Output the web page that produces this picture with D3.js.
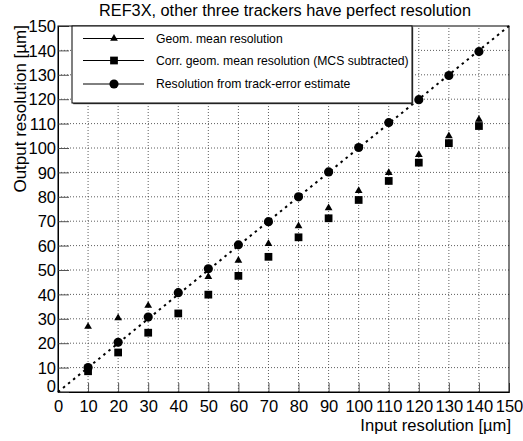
<!DOCTYPE html>
<html><head><meta charset="utf-8">
<script src="https://cdn.jsdelivr.net/npm/d3@7"></script>
<style>body{margin:0;background:#fff;} svg{display:block;font-family:"Liberation Sans",Arial,sans-serif;}</style>
</head><body>
<script>
const inputRes = [10,20,30,40,50,60,70,80,90,100,110,120,130,140];
const geomMean = [26.8,30.3,35.4,41.0,47.2,53.9,60.8,68.0,75.4,82.5,89.9,97.2,104.9,111.7];
const corrGeomMean = [8.5,16.2,24.3,32.2,39.9,47.6,55.4,63.4,71.2,78.7,86.5,94.0,102.0,109.0];
const trackErr = [10.0,20.4,30.7,40.7,50.5,60.3,69.8,80.0,90.2,100.2,110.4,119.8,129.7,139.5];
const tickValues = [0,10,20,30,40,50,60,70,80,90,100,110,120,130,140,150];
const legendLabels = ["Geom. mean resolution","Corr. geom. mean resolution (MCS subtracted)","Resolution from track-error estimate"];
const titleText = "REF3X, other three trackers have perfect resolution";

const W=523,H=441;
const L=58,R=509,T=26,B=392;
const svg=d3.select("body").append("svg").attr("width",W).attr("height",H);
const x=d3.scaleLinear().domain([0,150]).range([L,R]);
const y=d3.scaleLinear().domain([0,150]).range([B,T]);

// grid
const g=svg.append("g");
tickValues.slice(1,-1).forEach(v=>{
  g.append("line").attr("x1",x(v)).attr("x2",x(v)).attr("y1",B).attr("y2",T)
   .attr("stroke","#333").attr("stroke-width",0.8).attr("stroke-dasharray","1,2");
  g.append("line").attr("y1",y(v)).attr("y2",y(v)).attr("x1",L).attr("x2",R)
   .attr("stroke","#333").attr("stroke-width",0.8).attr("stroke-dasharray","1,2");
});

// axes
const xAxis=d3.axisBottom(x).tickValues(tickValues).tickSize(-9).tickPadding(12).tickFormat(d3.format("d"));
const yAxis=d3.axisLeft(y).tickValues(tickValues).tickSize(-11).tickPadding(2).tickFormat(d3.format("d"));
const gx=svg.append("g").attr("transform",`translate(0,${B})`).call(xAxis);
const gy=svg.append("g").attr("transform",`translate(${L},0)`).call(yAxis);
[gx,gy].forEach(a=>{
  a.selectAll("text").attr("font-size",16.5).attr("fill","#000").attr("font-family","Liberation Sans, Arial, sans-serif");
  a.selectAll("line").attr("stroke","#555");
  a.select(".domain").attr("stroke","#000");
});
gx.selectAll("text").attr("dy","0.5em");
gy.selectAll("text").attr("dy","0.35em");
gy.selectAll(".tick").filter(d=>d===0).select("text").attr("dy","-0.05em");

// frame
svg.append("rect").attr("x",L).attr("y",T).attr("width",R-L).attr("height",B-T)
  .attr("fill","none").attr("stroke","#000").attr("stroke-width",1);

// diagonal
svg.append("line").attr("x1",x(0)).attr("y1",y(0)).attr("x2",x(150)).attr("y2",y(150))
  .attr("stroke","#000").attr("stroke-width",2).attr("stroke-dasharray","2.5,4");

// markers
const tri=d3.symbol().type(d3.symbolTriangle).size(26);
const sq=d3.symbol().type(d3.symbolSquare).size(60);
const circ=d3.symbol().type(d3.symbolCircle).size(66);
function drawSeries(vals,sym){
  svg.append("g").selectAll("path").data(vals).join("path")
    .attr("d",sym).attr("fill","#000")
    .attr("transform",(d,i)=>`translate(${x(inputRes[i])},${y(d)})`);
}
drawSeries(geomMean,tri);
drawSeries(corrGeomMean,sq);
drawSeries(trackErr,circ);

// legend
const lg=svg.append("g");
const lx0=72,ly0=T,lx1=412,ly1=103;
lg.append("rect").attr("x",lx0+1.2).attr("y",ly0+1.2).attr("width",lx1-lx0).attr("height",ly1-ly0).attr("fill","#444");
lg.append("rect").attr("x",lx0).attr("y",ly0).attr("width",lx1-lx0).attr("height",ly1-ly0)
  .attr("fill","#fff").attr("stroke","#000").attr("stroke-width",1);
const rows=[38.5,60.5,84];
const syms=[tri,sq,circ];
rows.forEach((ry,i)=>{
  lg.append("line").attr("x1",83).attr("x2",144).attr("y1",ry).attr("y2",ry).attr("stroke","#000").attr("stroke-width",1);
  lg.append("path").attr("d",syms[i]).attr("transform",`translate(114,${ry})`).attr("fill","#000");
  lg.append("text").attr("x",156).attr("y",ry).attr("dy","0.35em").attr("font-size",12.2).text(legendLabels[i]);
});

// title
svg.append("text").attr("x",285).attr("y",16).attr("text-anchor","middle").attr("font-size",16.3).text(titleText);
// axis titles
svg.append("text").attr("x",R+2).attr("y",431).attr("text-anchor","end").attr("font-size",16.6).text("Input resolution [\u00b5m]");
svg.append("text").attr("transform",`translate(26,${T-1}) rotate(-90)`).attr("text-anchor","end").attr("font-size",17).text("Output resolution [\u00b5m]");
</script>
</body></html>
